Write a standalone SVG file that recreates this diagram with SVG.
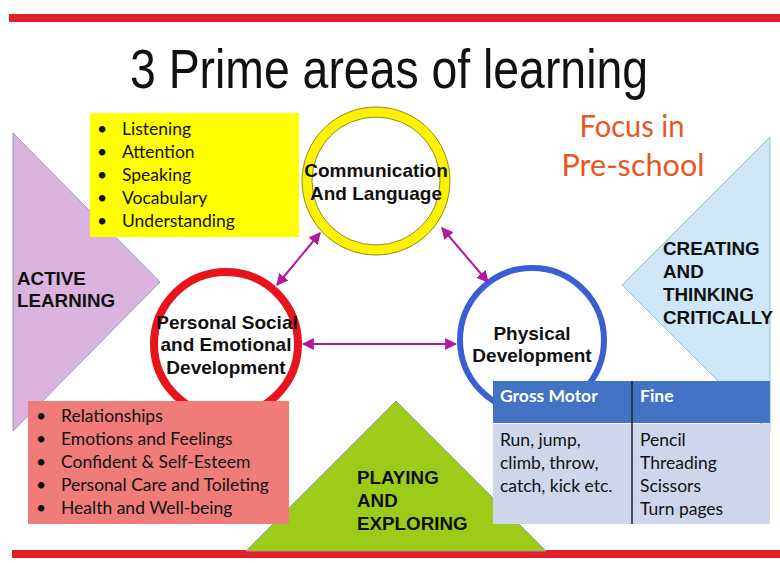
<svg xmlns="http://www.w3.org/2000/svg" width="780" height="563" viewBox="0 0 780 563">
<defs>
<style>
.head{font-family:"Liberation Sans",Arial,sans-serif;font-weight:bold;font-size:18.8px;fill:#111;}
.node{font-family:"Liberation Sans",Arial,sans-serif;font-weight:bold;font-size:19px;fill:#111;text-anchor:middle;}
.cal{font-family:Lato,"Open Sans",sans-serif;font-size:17.5px;fill:#111;}
.conn{stroke:#b5179e;stroke-width:2;fill:none;marker-start:url(#ah);marker-end:url(#ah);}
</style>
<marker id="ah" viewBox="0 0 10 10" refX="9" refY="5" markerWidth="6" markerHeight="6" orient="auto-start-reverse" markerUnits="strokeWidth">
<path d="M0,0 L10,5 L0,10 Z" fill="#b5179e"/>
</marker>
</defs>
<rect width="780" height="563" fill="#ffffff"/>
<rect x="9" y="14" width="771" height="8" fill="#e3202a"/>
<rect x="12" y="550" width="768" height="8" fill="#e3202a"/>
<text x="389" y="88" font-family="Liberation Sans,Arial,sans-serif" font-size="56" fill="#111" text-anchor="middle" textLength="518" lengthAdjust="spacingAndGlyphs">3 Prime areas of learning</text>

<g id="active-learning">
<polygon points="13,133 160,282 13,431" fill="#dcb2de" stroke="#8ea2bc" stroke-width="1"/>
<text class="head" x="17" y="285">ACTIVE</text>
<text class="head" x="17" y="307">LEARNING</text>
</g>
<g id="creating-thinking">
<polygon points="770,137 622,285 770,433" fill="#cde7f8" stroke="#8fc4c8" stroke-width="1"/>
<text class="head" x="663" y="255">CREATING</text>
<text class="head" x="663" y="278">AND</text>
<text class="head" x="663" y="301">THINKING</text>
<text class="head" x="663" y="324">CRITICALLY</text>
</g>
<g id="playing-exploring">
<polygon points="396,401 546,551 246,551" fill="#9ccb1a" stroke="#8aa0a0" stroke-width="1"/>
<text class="head" x="357" y="484">PLAYING</text>
<text class="head" x="357" y="507">AND</text>
<text class="head" x="357" y="530">EXPLORING</text>
</g>

<g id="focus">
<text x="632" y="137" font-family="Lato,'Open Sans',sans-serif" font-size="31" fill="#e8561f" text-anchor="middle" textLength="105" lengthAdjust="spacingAndGlyphs">Focus in</text>
<text x="633" y="176" font-family="Lato,'Open Sans',sans-serif" font-size="31" fill="#e8561f" text-anchor="middle" textLength="143" lengthAdjust="spacingAndGlyphs">Pre-school</text>
</g>

<g id="communication-language">
<circle cx="376" cy="181" r="69" fill="#ffffff" stroke="#fff200" stroke-width="10"/>
<circle cx="376" cy="181" r="74" fill="none" stroke="#8a8a22" stroke-width="1"/>
<circle cx="376" cy="181" r="64" fill="none" stroke="#8a8a22" stroke-width="1"/>
<text class="node" x="376" y="177">Communication</text>
<text class="node" x="376" y="200">And Language</text>
</g>
<g id="personal-social">
<circle cx="226" cy="344" r="72" fill="#ffffff" stroke="#e8141c" stroke-width="8"/>
<text class="node" x="227" y="329">Personal Social</text>
<text class="node" x="226" y="351">and Emotional</text>
<text class="node" x="226" y="374">Development</text>
</g>
<g id="physical">
<circle cx="532" cy="340" r="72" fill="#ffffff" stroke="#3a5fd2" stroke-width="6"/>
<text class="node" x="532" y="340">Physical</text>
<text class="node" x="532" y="362">Development</text>
</g>

<g id="connectors">
<line class="conn" x1="320" y1="233" x2="277" y2="285"/>
<line class="conn" x1="442" y1="228" x2="488" y2="282"/>
<line class="conn" x1="303" y1="344" x2="456" y2="344"/>
</g>

<g id="cl-list">
<rect x="90" y="113" width="209" height="124" fill="#ffff00"/>
<g class="cal">
<text x="97" y="135">•</text><text x="122" y="135">Listening</text>
<text x="97" y="158">•</text><text x="122" y="158">Attention</text>
<text x="97" y="181">•</text><text x="122" y="181">Speaking</text>
<text x="97" y="204">•</text><text x="122" y="204">Vocabulary</text>
<text x="97" y="227">•</text><text x="122" y="227">Understanding</text>
</g>
</g>

<g id="pse-list">
<rect x="28" y="401" width="261" height="123" fill="#f07c7a"/>
<g class="cal">
<text x="36" y="422">•</text><text x="61" y="422">Relationships</text>
<text x="36" y="445">•</text><text x="61" y="445">Emotions and Feelings</text>
<text x="36" y="468">•</text><text x="61" y="468">Confident &amp; Self-Esteem</text>
<text x="36" y="491">•</text><text x="61" y="491">Personal Care and Toileting</text>
<text x="36" y="514">•</text><text x="61" y="514">Health and Well-being</text>
</g>
</g>

<g id="motor-table">
<rect x="493" y="381" width="277" height="42" fill="#4472c4"/>
<rect x="493" y="424" width="277" height="100" fill="#cfd5ea"/>
<line x1="632" y1="381" x2="632" y2="524" stroke="#222" stroke-width="1.5"/>
<text class="cal" x="500" y="402" style="fill:#fff;font-weight:bold">Gross Motor</text>
<text class="cal" x="640" y="402" style="fill:#fff;font-weight:bold">Fine</text>
<g class="cal">
<text x="500" y="446">Run, jump,</text>
<text x="500" y="469">climb, throw,</text>
<text x="500" y="492">catch, kick etc.</text>
<text x="640" y="446">Pencil</text>
<text x="640" y="469">Threading</text>
<text x="640" y="492">Scissors</text>
<text x="640" y="515">Turn pages</text>
</g>
</g>
</svg>
